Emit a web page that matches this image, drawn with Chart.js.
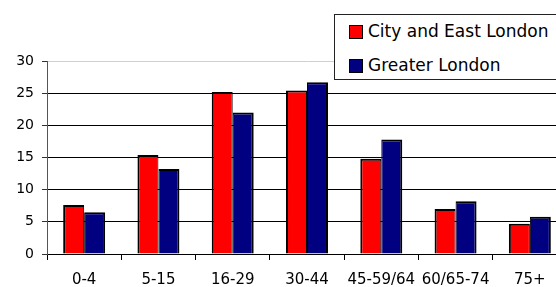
<!DOCTYPE html>
<html>
<head>
<meta charset="utf-8">
<script src="https://cdn.jsdelivr.net/npm/chart.js@4.4.1/dist/chart.umd.min.js"></script>
<style>
  html, body { margin: 0; padding: 0; background: #fff; overflow: hidden; }
  #wrap { position: relative; width: 567px; height: 287px; }
  #legend {
    position: absolute; left: 334px; top: 14px; width: 240px; height: 66px;
    border: 1px solid #222; background: #fff; box-sizing: border-box;
    font-family: "DejaVu Sans", sans-serif; font-size: 17px; color: #000;
  }
  .item { position: absolute; left: 14px; height: 20px; line-height: 20px; white-space: nowrap; }
  .item span.sw { position: absolute; left: 0; top: 2px; width: 12px; height: 12px; border: 1px solid #000; }
  .item span.tx { position: absolute; left: 19px; top: -2px; }
</style>
</head>
<body>
<div id="wrap">
  <canvas id="chart" width="567" height="287"></canvas>
  <div id="legend"></div>
</div>
<script>
const ageGroups = ['0-4', '5-15', '16-29', '30-44', '45-59/64', '60/65-74', '75+'];
const cityEastLondon = [7.6, 15.4, 25.2, 25.4, 14.8, 7.0, 4.7];
const greaterLondon = [6.5, 13.2, 22.0, 26.7, 17.8, 8.2, 5.8];
const seriesNames = ['City and East London', 'Greater London'];
const seriesColors = ['#ff0000', '#000080'];
const yTicks = [0, 5, 10, 15, 20, 25, 30];

const font = 'DejaVu Sans';

const chart = new Chart(document.getElementById('chart'), {
  type: 'bar',
  data: {
    labels: ageGroups,
    datasets: [
      { label: seriesNames[0], data: cityEastLondon, backgroundColor: seriesColors[0], borderColor: '#000',
        borderWidth: { top: 2, left: 2, right: 1, bottom: 0 } },
      { label: seriesNames[1], data: greaterLondon, backgroundColor: seriesColors[1], borderColor: '#000',
        borderWidth: { top: 2, left: 1, right: 2, bottom: 0 } }
    ]
  },
  options: {
    responsive: false,
    animation: false,
    layout: { padding: { top: 61, right: 0, left: 0, bottom: 0 } },
    datasets: { bar: { categoryPercentage: 0.565, barPercentage: 1 } },
    plugins: { legend: { display: false }, tooltip: { enabled: false } },
    scales: {
      x: {
        grid: { offset: true, drawOnChartArea: false, color: '#000', tickLength: 6 },
        border: { color: '#000', width: 1 },
        ticks: { color: '#000', font: { family: font, size: 15 }, padding: 11, maxRotation: 0, autoSkip: false },
        afterFit(scale) { scale.height = 33; }
      },
      y: {
        min: 0, max: 30,
        afterBuildTicks(scale) { scale.ticks = yTicks.map(v => ({ value: v })); },
        grid: {
          color: ctx => ctx.tick && ctx.tick.value === 30 ? '#cfcfcf' : '#000',
          tickColor: '#333',
          tickLength: 5
        },
        border: { color: '#555', width: 1 },
        ticks: { color: '#000', font: { family: font, size: 14 }, padding: 8 },
        afterFit(scale) { scale.width = 47; }
      }
    }
  }
});

// legend built from the chart's datasets
const legend = document.getElementById('legend');
chart.data.datasets.forEach((ds, i) => {
  const item = document.createElement('div');
  item.className = 'item';
  item.style.top = (8 + i * 34) + 'px';
  const sw = document.createElement('span');
  sw.className = 'sw';
  sw.style.background = ds.backgroundColor;
  const tx = document.createElement('span');
  tx.className = 'tx';
  tx.textContent = ds.label;
  item.appendChild(sw);
  item.appendChild(tx);
  legend.appendChild(item);
});
</script>
</body>
</html>
